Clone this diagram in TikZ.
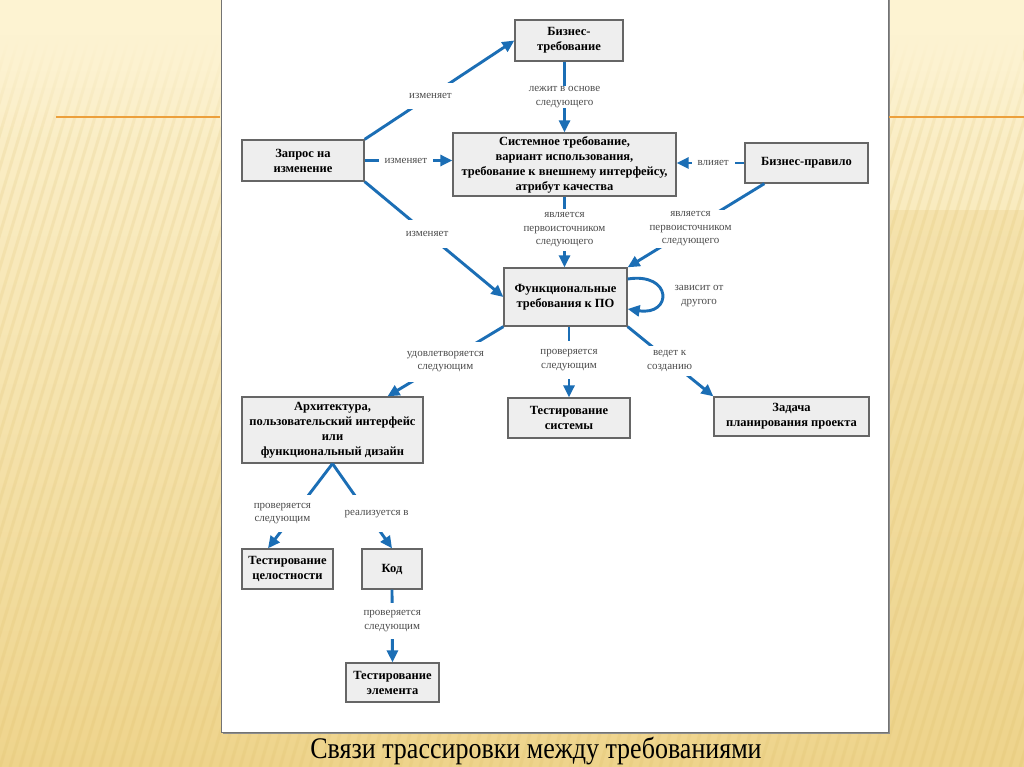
\documentclass[tikz,border=0pt]{standalone}
\usepackage{fontspec}
\setmainfont{Liberation Serif}
\usetikzlibrary{arrows.meta,calc,fadings}
\definecolor{lnk}{RGB}{27,110,181}
\definecolor{bgtop}{RGB}{253,243,210}
\definecolor{bgbot}{RGB}{238,212,140}
\definecolor{boxfill}{RGB}{238,238,238}
\definecolor{orng}{RGB}{236,160,60}
\definecolor{stripe}{RGB}{215,180,90}
\tikzset{
  box/.style={draw=black!60, line width=1.3pt, fill=boxfill, align=center, inner sep=0pt,
    font=\bfseries\fontsize{12.5}{15}\selectfont},
  lbl/.style={fill=white, align=center, inner xsep=4pt, inner ysep=2pt, text=black!70,
    font=\fontsize{11}{13.5}\selectfont},
  link/.style={draw=lnk, line width=2.9pt, -{Triangle[length=12pt,width=11pt]}},
  freelbl/.style={align=center, text=black!70, font=\fontsize{11}{13.5}\selectfont}
}
\begin{document}
\begin{tikzpicture}[x=1pt,y=-1pt]
\useasboundingbox (0,0) rectangle (1024,767);
% background
\shade[top color=bgtop, bottom color=bgbot] (0,0) rectangle (1024,767);
\fill[bgbot, opacity=0.35] (888,210) rectangle (1024,767);
\begin{scope}
\clip (0,0) rectangle (1024,767);
\foreach \i in {-300,-290,...,1020} {
  \draw[stripe, opacity=0.15, line width=3pt] (\i,767) -- ($(\i,767)+(240,-800)$);
}
\end{scope}
\fill[bgtop] (0,0) rectangle (1024,35);
\fill[bgtop, path fading=south] (0,35) rectangle (1024,140);
% panel
\fill[black!45] (223,0) rectangle (890,734);
\fill[white] (221,0) rectangle (888,732);
\draw[black!55, line width=1pt] (221,-2) -- (221,732) -- (888,732) -- (888,-2);
% orange rules
\draw[orng, line width=1.6pt] (56,117) -- (220,117);
\draw[orng, line width=1.6pt] (889,117) -- (1024,117);
% caption
\node[anchor=base, font=\fontsize{26}{30}\selectfont, inner sep=0pt] (cap) at (536,758) {\scalebox{1}[1.15]{Связи трассировки между требованиями}};

% nodes
\node[box, minimum width=108, minimum height=41] (bt) at (569,40.5) {Бизнес-\\требование};
\node[box, minimum width=223, minimum height=63] (sys) at (564.5,164.5) {Системное требование,\\вариант использования,\\требование к внешнему интерфейсу,\\атрибут качества};
\node[box, minimum width=122, minimum height=41] (zap) at (303,160.5) {Запрос на\\изменение};
\node[box, minimum width=123, minimum height=40] (bp) at (806.5,163) {Бизнес-правило};
\node[box, minimum width=123, minimum height=58] (f) at (565.5,297) {Функциональные\\требования к ПО};
\node[box, minimum width=181, minimum height=66] (arch) at (332.5,430) {Архитектура,\\пользовательский интерфейс\\или\\функциональный дизайн};
\node[box, minimum width=122, minimum height=40] (tsys) at (569,418) {Тестирование\\системы};
\node[box, minimum width=155, minimum height=39] (zad) at (791.5,416.5) {Задача\\планирования проекта};
\node[box, minimum width=91, minimum height=40] (tcel) at (287.5,569) {Тестирование\\целостности};
\node[box, minimum width=60, minimum height=40] (kod) at (392,569) {Код};
\node[box, minimum width=93, minimum height=39] (tel) at (392.5,682.5) {Тестирование\\элемента};

% connectors
\draw[link] (zap.north east) -- node[lbl, pos=0.44, minimum height=26]{изменяет} (bt.west);
\draw[link] (zap.east) -- node[lbl, pos=0.47, inner xsep=6pt]{изменяет} (zap.east -| sys.west);
\draw[link] (zap.south east) -- node[lbl, pos=0.45, minimum height=28]{изменяет} (f.west);
\draw[link] (bt.south -| sys.north) -- node[lbl, pos=0.5, inner ysep=0pt]{лежит в основе\\следующего} (sys.north);
\draw[link] (bp.west) -- node[lbl, pos=0.46, inner xsep=6pt]{влияет} (bp.west -| sys.east);
\draw[link] (sys.south) -- node[lbl, pos=0.47, inner ysep=4pt]{является\\первоисточником\\следующего} (sys.south |- f.north);
\draw[link] ($(bp.south west)+(20,0)$) -- node[lbl, pos=0.54]{является\\первоисточником\\следующего} (f.north east);
\draw[link] ($(f.east)+(0,-18)$) .. controls ($(f.east)+(45,-25)$) and ($(f.east)+(45,19)$) .. ($(f.east)+(0,12)$);
\node[freelbl] (dep) at (699,296) {зависит от\\другого};
\draw[link] (f.south west) -- node[lbl, pos=0.5, minimum height=40]{удовлетворяется\\следующим} ($(arch.north)+(55,0)$);
\draw[link] (tsys.north |- f.south) -- node[lbl, pos=0.47, minimum height=38]{проверяется\\следующим} (tsys.north);
\draw[link] (f.south east) -- node[lbl, pos=0.49, minimum height=30]{ведет к\\созданию} (zad.north west);
\draw[link] (arch.south) -- node[lbl, pos=0.59, xshift=-12pt, minimum height=37]{проверяется\\следующим} ($(tcel.north)+(-19.5,0)$);
\draw[link] (arch.south) -- node[lbl, pos=0.59, xshift=9pt, minimum height=37]{реализуется в} (kod.north);
\draw[link] (kod.south) -- node[lbl, pos=0.43, minimum height=36]{проверяется\\следующим} (tel.north);
\end{tikzpicture}
\end{document}
